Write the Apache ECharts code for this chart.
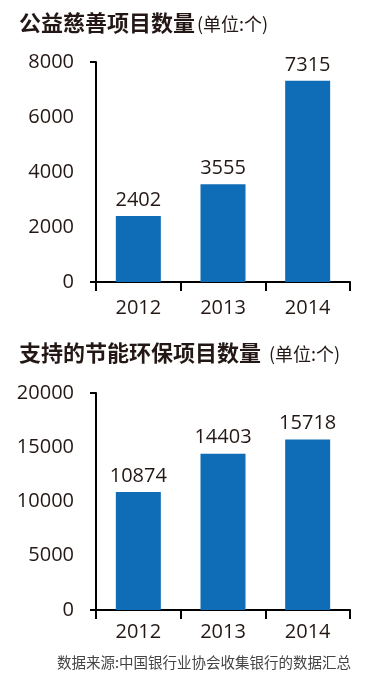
<!DOCTYPE html>
<html>
<head>
<meta charset="utf-8">
<script src="https://cdn.jsdelivr.net/npm/echarts@6/dist/echarts.min.js"></script>
<style>
html,body{margin:0;padding:0;background:#fff;}
#c{width:369px;height:683px;}
</style>
</head>
<body>
<div id="c"></div>
<script>
// Data
var years = ['2012', '2013', '2014'];
var charityProjects = [2402, 3555, 7315];
var greenProjects = [10874, 14403, 15718];
var yTicks1 = [0, 2000, 4000, 6000, 8000];
var yTicks2 = [0, 5000, 10000, 15000, 20000];
var title1 = '公益慈善项目数量';
var title2 = '支持的节能环保项目数量';
var unitText = '(单位:个)';
var sourceText = '数据来源:中国银行业协会收集银行的数据汇总';

var ink = '#231815';
var barColor = '#0f6cb6';
var numFont = 'Open Sans';
var numSize = 20;

function xAxisCfg(gridIndex, margin) {
  return {
    type: 'category', gridIndex: gridIndex, data: years,
    axisLine: {lineStyle: {color: '#000', width: 2}},
    axisTick: {show: true, length: 9, inside: false, lineStyle: {color: '#000', width: 2}},
    axisLabel: {color: ink, fontFamily: numFont, fontSize: numSize, margin: margin}
  };
}
function yAxisCfg(gridIndex, ticks) {
  return {
    type: 'value', gridIndex: gridIndex,
    min: ticks[0], max: ticks[ticks.length - 1], interval: ticks[1] - ticks[0],
    axisLine: {show: true, lineStyle: {color: '#000', width: 2}},
    axisTick: {show: true, length: 6, lineStyle: {color: '#000', width: 2},
      customValues: [ticks[0], ticks[ticks.length - 1]]},
    splitLine: {show: false},
    axisLabel: {color: ink, fontFamily: numFont, fontSize: numSize, margin: 22,
      formatter: function (v) { return String(v); }}
  };
}
function seriesCfg(idx, data) {
  return {
    type: 'bar', xAxisIndex: idx, yAxisIndex: idx, data: data,
    barWidth: 45,
    itemStyle: {color: barColor},
    label: {show: true, position: 'top', distance: 6, color: ink,
      fontFamily: numFont, fontSize: numSize},
    silent: true
  };
}
function titleCfg(main, top, gap) {
  return {
    text: '{a|' + main + '}{b|' + unitText + '}',
    left: 14, top: top,
    textStyle: {
      rich: {
        a: {fontFamily: 'Noto Sans CJK SC', fontWeight: 'bold', fontSize: 22, color: ink},
        b: {fontFamily: 'Noto Sans CJK SC', fontWeight: 'normal', fontSize: 18, color: ink, padding: [2, 0, 0, gap]}
      }
    }
  };
}

var chart = echarts.init(document.getElementById('c'), null, {renderer: 'canvas'});
chart.setOption({
  animation: false,
  backgroundColor: '#fff',
  title: [
    titleCfg(title1, 7, 2),
    titleCfg(title2, 337, 8),
    {
      text: sourceText, left: 52, top: 650,
      textStyle: {fontFamily: 'Noto Sans CJK SC', fontWeight: 'normal', fontSize: 14.5, color: '#444'}
    }
  ],
  grid: [
    {left: 96, right: 19, top: 62, height: 220},
    {left: 96, right: 19, top: 393, height: 217}
  ],
  xAxis: [xAxisCfg(0, 16), xAxisCfg(1, 12)],
  yAxis: [yAxisCfg(0, yTicks1), yAxisCfg(1, yTicks2)],
  series: [seriesCfg(0, charityProjects), seriesCfg(1, greenProjects)]
});
</script>
</body>
</html>
